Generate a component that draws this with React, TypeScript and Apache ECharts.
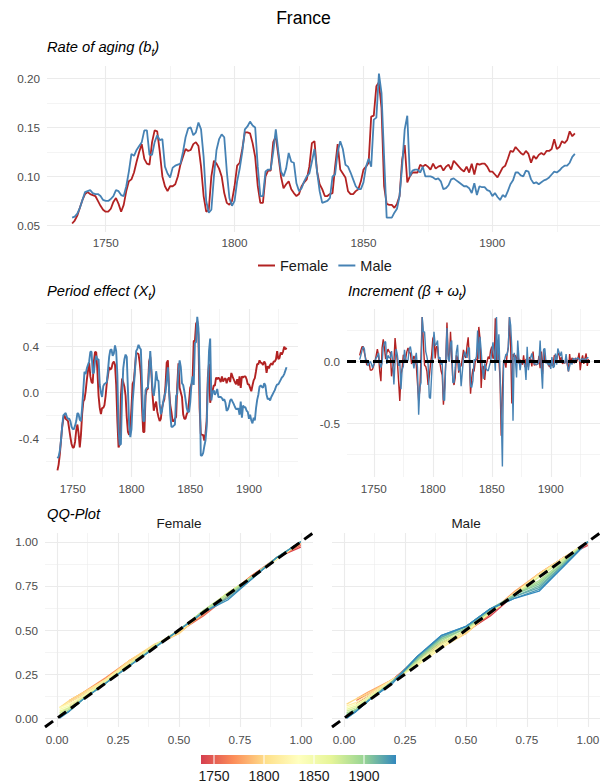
import React, { useEffect, useRef } from 'react';
import * as echarts from 'echarts';

const START_YEAR = 1737;
const INC_START_YEAR = 1738;

// Rate of aging b_t
const B_FEMALE = [
  0.052, 0.055, 0.060,
  0.068, 0.076, 0.082, 0.084, 0.082, 0.081, 0.080, 0.075, 0.070, 0.066,
  0.064, 0.064, 0.067, 0.074, 0.078, 0.072, 0.064, 0.071, 0.085, 0.095,
  0.097, 0.104, 0.115, 0.125, 0.133, 0.118, 0.113, 0.112, 0.135, 0.147,
  0.146, 0.125, 0.100, 0.090, 0.085, 0.090, 0.090, 0.092, 0.100, 0.112,
  0.120, 0.128, 0.126, 0.127, 0.133, 0.135, 0.131, 0.110, 0.080, 0.064,
  0.066, 0.100, 0.116, 0.113, 0.108, 0.100, 0.083, 0.073, 0.071, 0.075,
  0.090, 0.111, 0.114, 0.128, 0.145, 0.145, 0.144, 0.134, 0.120, 0.090,
  0.073, 0.073, 0.100, 0.106, 0.106, 0.135, 0.141, 0.121, 0.100, 0.088,
  0.092, 0.095, 0.087, 0.083, 0.080, 0.082, 0.090, 0.094, 0.097, 0.110,
  0.134, 0.136, 0.105, 0.092, 0.087, 0.080, 0.080, 0.082, 0.083, 0.110,
  0.133, 0.107, 0.103, 0.099, 0.085, 0.082, 0.082, 0.085, 0.087, 0.095,
  0.107, 0.110, 0.114, 0.161, 0.162, 0.192, 0.196, 0.170, 0.090, 0.072,
  0.071, 0.071, 0.068, 0.072, 0.080, 0.117, 0.132, 0.094, 0.100, 0.104,
  0.104, 0.104, 0.112, 0.110, 0.112, 0.110, 0.107, 0.113, 0.108, 0.110,
  0.111, 0.106, 0.110, 0.112, 0.107, 0.116, 0.113, 0.110, 0.107, 0.105,
  0.110, 0.104, 0.113, 0.102, 0.113, 0.112, 0.113, 0.113, 0.110, 0.105,
  0.105, 0.102, 0.099, 0.104, 0.109, 0.111, 0.118, 0.126, 0.125, 0.130,
  0.127, 0.124, 0.122, 0.126, 0.123, 0.114, 0.121, 0.118, 0.122, 0.124,
  0.122, 0.126, 0.126, 0.128, 0.138, 0.128, 0.130, 0.136, 0.134, 0.137,
  0.146, 0.141, 0.144,
];
const B_MALE = [
  0.058, 0.059, 0.062,
  0.068, 0.076, 0.084, 0.085, 0.086, 0.083, 0.082, 0.082, 0.080, 0.076,
  0.075, 0.075, 0.077, 0.080, 0.086, 0.085, 0.081, 0.080, 0.090, 0.105,
  0.123, 0.121, 0.127, 0.131, 0.135, 0.147, 0.147, 0.122, 0.122, 0.135,
  0.142, 0.137, 0.138, 0.110, 0.103, 0.099, 0.109, 0.111, 0.112, 0.113,
  0.125, 0.140, 0.149, 0.150, 0.142, 0.145, 0.155, 0.148, 0.120, 0.075,
  0.063, 0.066, 0.100, 0.127, 0.138, 0.143, 0.140, 0.105, 0.078, 0.070,
  0.075, 0.095, 0.108, 0.125, 0.148, 0.151, 0.156, 0.152, 0.150, 0.110,
  0.080, 0.080, 0.105, 0.107, 0.107, 0.125, 0.148, 0.125, 0.105, 0.100,
  0.108, 0.124, 0.115, 0.114, 0.093, 0.085, 0.088, 0.095, 0.100, 0.103,
  0.115, 0.128, 0.105, 0.085, 0.073, 0.074, 0.075, 0.078, 0.100, 0.102,
  0.125, 0.136, 0.128, 0.112, 0.110, 0.104, 0.097, 0.090, 0.087, 0.087,
  0.094, 0.110, 0.118, 0.110, 0.158, 0.160, 0.205, 0.185, 0.120, 0.058,
  0.058, 0.058, 0.063, 0.067, 0.080, 0.110, 0.148, 0.162, 0.100, 0.106,
  0.107, 0.107, 0.104, 0.110, 0.100, 0.100, 0.100, 0.099, 0.097, 0.098,
  0.095, 0.087, 0.088, 0.091, 0.097, 0.098, 0.096, 0.094, 0.092, 0.090,
  0.090, 0.088, 0.083, 0.093, 0.081, 0.090, 0.089, 0.089, 0.086, 0.085,
  0.080, 0.083, 0.079, 0.076, 0.081, 0.079, 0.085, 0.092, 0.096, 0.104,
  0.104, 0.101, 0.100, 0.106, 0.105, 0.097, 0.093, 0.094, 0.092, 0.094,
  0.096, 0.097, 0.099, 0.102, 0.105, 0.104, 0.106, 0.109, 0.111, 0.111,
  0.114, 0.120, 0.123,
];

// Period effect X_t
const X_FEMALE = [
  -0.68, -0.63, -0.54,
  -0.42, -0.30, -0.23, -0.20, -0.23, -0.24, -0.25, -0.32, -0.39, -0.45,
  -0.48, -0.48, -0.43, -0.33, -0.28, -0.36, -0.48, -0.37, -0.19, -0.08,
  -0.06, 0.01, 0.11, 0.19, 0.26, 0.14, 0.09, 0.08, 0.27, 0.355,
  0.35, 0.19, -0.03, -0.135, -0.19, -0.135, -0.135, -0.11, -0.03, 0.08,
  0.15, 0.22, 0.20, 0.21, 0.255, 0.27, 0.24, 0.065, -0.25, -0.48,
  -0.45, -0.03, 0.12, 0.09, 0.05, -0.03, -0.22, -0.345, -0.37, -0.32,
  -0.135, 0.075, 0.10, 0.22, 0.34, 0.34, 0.335, 0.26, 0.15, -0.135,
  -0.345, -0.345, -0.03, 0.03, 0.03, 0.27, 0.31, 0.16, -0.03, -0.16,
  -0.11, -0.08, -0.17, -0.215, -0.25, -0.23, -0.135, -0.09, -0.06, 0.065,
  0.26, 0.28, 0.02, -0.11, -0.17, -0.25, -0.25, -0.23, -0.215, 0.065,
  0.255, 0.04, 0.00, -0.04, -0.19, -0.23, -0.23, -0.19, -0.17, -0.08,
  0.04, 0.065, 0.10, 0.45, 0.45, 0.60, 0.62, 0.50, -0.135, -0.36,
  -0.37, -0.37, -0.42, -0.36, -0.25, 0.13, 0.25, -0.09, -0.03, 0.01,
  0.06, 0.06, 0.13, 0.115, 0.13, 0.115, 0.09, 0.14, 0.095, 0.115,
  0.125, 0.08, 0.115, 0.13, 0.09, 0.17, 0.14, 0.115, 0.09, 0.07,
  0.115, 0.06, 0.14, 0.04, 0.14, 0.13, 0.14, 0.14, 0.115, 0.07,
  0.07, 0.04, 0.01, 0.06, 0.105, 0.125, 0.185, 0.25, 0.245, 0.28,
  0.26, 0.255, 0.24, 0.27, 0.25, 0.17, 0.23, 0.21, 0.24, 0.255,
  0.24, 0.27, 0.27, 0.29, 0.36, 0.29, 0.30, 0.35, 0.33, 0.355,
  0.40, 0.375, 0.39,
];
const X_MALE = [
  -0.575, -0.56, -0.51,
  -0.42, -0.30, -0.20, -0.19, -0.18, -0.215, -0.23, -0.23, -0.25, -0.30,
  -0.32, -0.32, -0.29, -0.25, -0.18, -0.19, -0.24, -0.25, -0.135, 0.02,
  0.18, 0.16, 0.21, 0.24, 0.27, 0.355, 0.355, 0.17, 0.17, 0.27,
  0.32, 0.285, 0.29, 0.065, 0.00, -0.04, 0.055, 0.075, 0.08, 0.09,
  0.19, 0.31, 0.37, 0.375, 0.32, 0.34, 0.41, 0.36, 0.15, -0.32,
  -0.46, -0.45, -0.03, 0.21, 0.29, 0.33, 0.31, 0.02, -0.28, -0.39,
  -0.32, -0.08, 0.05, 0.19, 0.36, 0.38, 0.415, 0.39, 0.375, 0.065,
  -0.25, -0.25, 0.02, 0.04, 0.04, 0.19, 0.36, 0.19, 0.02, -0.03,
  0.05, 0.185, 0.11, 0.10, -0.10, -0.19, -0.16, -0.08, -0.03, 0.00,
  0.11, 0.22, 0.02, -0.19, -0.30, -0.30, -0.29, -0.28, -0.03, -0.01,
  0.19, 0.28, 0.22, 0.08, 0.065, 0.01, -0.06, -0.135, -0.17, -0.17,
  -0.09, 0.065, 0.14, 0.065, 0.43, 0.44, 0.66, 0.56, 0.15, -0.55,
  -0.55, -0.53, -0.47, -0.42, -0.30, 0.065, 0.36, 0.47, -0.07, 0.00,
  0.02, -0.02, 0.00, 0.03, -0.04, -0.04, -0.04, -0.05, -0.07, -0.06,
  -0.09, -0.16, -0.15, -0.12, -0.07, -0.06, -0.08, -0.10, -0.125, -0.145,
  -0.145, -0.14, -0.195, -0.08, -0.22, -0.115, -0.13, -0.13, -0.16, -0.17,
  -0.23, -0.195, -0.245, -0.27, -0.22, -0.245, -0.14, -0.065, -0.02, 0.05,
  0.06, 0.05, 0.04, 0.08, 0.06, -0.02, -0.06, -0.05, -0.07, -0.04,
  -0.02, 0.00, 0.02, 0.05, 0.07, 0.07, 0.09, 0.11, 0.13, 0.14,
  0.16, 0.19, 0.22,
];

// Increment (beta + omega_t), from 1738
const INC_FEMALE = [
  0.05, 0.09,
  0.12, 0.12, 0.07, 0.03, -0.03, -0.01, -0.01, -0.07, -0.07, -0.06,
  -0.03, 0.00, 0.05, 0.10, 0.05, -0.08, -0.16, 0.11, 0.18, 0.11,
  0.02, 0.07, 0.10, 0.08, 0.07, -0.12, -0.05, -0.01, 0.19, 0.085,
  -0.005, -0.16, -0.32, -0.105, -0.055, 0.055, 0.00, 0.025, 0.08, 0.11,
  0.07, 0.07, -0.02, 0.01, 0.045, 0.015, -0.03, -0.175, -0.315, -0.23,
  0.03, 0.36, 0.15, -0.03, -0.04, -0.08, -0.19, -0.125, -0.025, 0.05,
  0.185, 0.21, 0.025, 0.12, 0.12, 0.00, -0.005, -0.075, -0.11, -0.35,
  -0.21, 0.00, 0.315, 0.06, 0.00, 0.24, 0.04, -0.15, -0.19, -0.13,
  0.05, 0.03, -0.09, -0.045, -0.035, 0.02, 0.095, 0.045, 0.03, 0.125,
  0.195, 0.02, -0.26, -0.13, -0.06, -0.08, 0.00, 0.02, 0.015, 0.28,
  0.19, -0.215, -0.04, -0.04, -0.15, -0.04, 0.00, 0.04, 0.02, 0.09,
  0.12, 0.025, 0.035, 0.35, 0.00, 0.17, 0.02, -0.14, -0.60, -0.225,
  -0.01, 0.00, -0.05, 0.06, 0.11, 0.36, 0.12, -0.34, 0.06, 0.04,
  0.05, 0.00, 0.07, -0.015, 0.015, -0.015, -0.025, 0.05, -0.045, 0.02,
  0.01, -0.045, 0.035, 0.015, -0.04, 0.08, -0.03, -0.025, -0.025, -0.02,
  0.045, -0.055, 0.08, -0.10, 0.10, -0.01, 0.01, 0.00, -0.025, -0.045,
  0.00, -0.03, -0.03, 0.05, 0.045, 0.02, 0.06, 0.065, -0.005, 0.035,
  -0.02, -0.005, -0.015, 0.03, -0.02, -0.08, 0.06, -0.02, 0.03, 0.015,
  -0.015, 0.03, 0.00, 0.02, 0.07, -0.07, 0.01, 0.05, -0.02, 0.025,
  0.065, -0.035, 0.02,
];
const INC_MALE = [
  0.015, 0.05,
  0.09, 0.12, 0.10, 0.01, 0.01, -0.035, -0.015, 0.00, -0.02, -0.05,
  -0.02, 0.00, 0.03, 0.04, 0.07, -0.01, -0.05, -0.01, 0.115, 0.155,
  0.16, -0.02, 0.05, 0.03, 0.03, 0.085, 0.00, -0.185, 0.00, 0.10,
  0.05, -0.035, 0.005, -0.225, -0.065, -0.04, 0.095, 0.02, 0.005, 0.01,
  0.10, 0.12, 0.06, 0.005, -0.055, 0.02, 0.07, -0.05, -0.43, -0.21,
  -0.17, 0.36, 0.24, 0.24, 0.08, 0.04, -0.02, -0.29, -0.30, -0.11,
  0.07, 0.24, 0.13, 0.14, 0.17, 0.02, 0.035, -0.025, -0.015, -0.31,
  -0.315, 0.00, 0.27, 0.02, 0.00, 0.15, 0.17, -0.17, -0.17, -0.05,
  0.08, 0.135, -0.075, -0.01, -0.20, -0.09, 0.03, 0.08, 0.05, 0.03,
  0.11, 0.11, -0.20, -0.21, -0.155, 0.015, 0.01, 0.04, 0.25, 0.02,
  0.20, 0.09, -0.06, -0.14, -0.015, -0.055, -0.07, -0.075, -0.035, 0.00,
  0.08, 0.155, 0.075, -0.075, 0.36, 0.01, 0.22, -0.10, -0.41, -0.85,
  0.00, 0.02, 0.06, 0.05, 0.12, 0.36, 0.295, 0.11, -0.48, 0.07,
  0.02, -0.13, 0.17, 0.03, -0.07, 0.00, 0.00, -0.01, -0.02, -0.15,
  0.12, -0.07, 0.01, 0.035, 0.065, 0.01, -0.02, -0.02, -0.025, -0.02,
  0.00, 0.17, -0.055, -0.22, 0.10, 0.105, -0.015, 0.00, -0.03, -0.01,
  -0.06, 0.035, -0.05, -0.04, 0.065, -0.025, 0.105, 0.075, 0.045, 0.08,
  0.01, -0.01, -0.01, 0.06, -0.02, -0.08, -0.04, 0.01, -0.025, 0.025,
  0.02, 0.02, 0.02, 0.03, 0.02, 0.00, 0.02, 0.02, 0.02, 0.01,
  0.02, 0.03, 0.03,
];

// QQ-plot: theoretical probabilities and empirical quantiles per year
const QQ_PROBS = [0.01, 0.05, 0.1, 0.2, 0.3, 0.4, 0.5, 0.6, 0.7, 0.8, 0.9, 1.0];
const QQ_FEMALE_YEARS = [1740, 1755, 1770, 1785, 1800, 1815, 1830, 1845, 1860, 1875, 1890, 1905, 1920, 1930];
const QQ_FEMALE = [
  [null, 0.07, 0.12, 0.21, 0.31, 0.41, 0.50, 0.59, 0.69, 0.80, 0.91, 0.97],
  [null, 0.09, 0.13, 0.22, 0.32, 0.41, 0.49, 0.58, 0.69, 0.81, 0.91, 0.98],
  [null, 0.10, 0.14, 0.23, 0.33, 0.41, 0.49, 0.59, 0.70, 0.81, 0.90, 0.99],
  [null, 0.10, 0.14, 0.22, 0.33, 0.41, 0.48, 0.60, 0.71, 0.80, 0.90, 1.0],
  [0.06, 0.10, 0.14, 0.22, 0.33, 0.42, 0.48, 0.60, 0.71, 0.80, 0.90, 1.0],
  [0.06, 0.09, 0.13, 0.22, 0.32, 0.41, 0.49, 0.60, 0.71, 0.80, 0.90, 1.0],
  [0.06, 0.08, 0.12, 0.21, 0.31, 0.41, 0.50, 0.60, 0.70, 0.80, 0.90, 1.0],
  [0.05, 0.07, 0.12, 0.21, 0.31, 0.41, 0.50, 0.60, 0.71, 0.80, 0.91, 1.0],
  [0.04, 0.06, 0.11, 0.21, 0.31, 0.41, 0.50, 0.60, 0.71, 0.80, 0.91, 1.0],
  [0.03, 0.06, 0.11, 0.20, 0.31, 0.41, 0.50, 0.61, 0.71, 0.80, 0.91, 1.0],
  [0.02, 0.05, 0.10, 0.20, 0.30, 0.40, 0.50, 0.61, 0.70, 0.80, 0.91, 1.0],
  [0.01, 0.04, 0.10, 0.20, 0.30, 0.40, 0.50, 0.60, 0.69, 0.80, 0.91, 1.0],
  [0.005, 0.04, 0.10, 0.20, 0.30, 0.40, 0.50, 0.60, 0.68, 0.79, 0.91, 1.0],
  [0.0, 0.04, 0.10, 0.20, 0.30, 0.40, 0.50, 0.60, 0.67, 0.79, 0.91, 1.0],
];
const QQ_MALE_YEARS = [1740, 1760, 1780, 1800, 1820, 1840, 1860, 1875, 1890, 1897, 1904, 1911, 1918, 1925, 1932];
const QQ_MALE = [
  [null, 0.08, 0.13, 0.22, 0.34, 0.43, 0.49, 0.58, 0.70, 0.81, 0.91, 0.98],
  [null, 0.10, 0.14, 0.22, 0.33, 0.42, 0.49, 0.59, 0.71, 0.82, 0.91, 0.99],
  [null, 0.11, 0.15, 0.22, 0.31, 0.41, 0.48, 0.60, 0.72, 0.82, 0.91, 1.0],
  [0.08, 0.11, 0.14, 0.22, 0.30, 0.40, 0.48, 0.60, 0.71, 0.82, 0.91, 1.0],
  [0.07, 0.09, 0.13, 0.22, 0.30, 0.40, 0.49, 0.60, 0.71, 0.81, 0.91, 1.0],
  [0.06, 0.08, 0.12, 0.21, 0.30, 0.41, 0.50, 0.60, 0.70, 0.81, 0.90, 1.0],
  [0.05, 0.07, 0.12, 0.21, 0.31, 0.42, 0.50, 0.60, 0.70, 0.80, 0.90, 1.0],
  [0.04, 0.06, 0.11, 0.21, 0.32, 0.43, 0.50, 0.61, 0.70, 0.80, 0.90, 1.0],
  [0.03, 0.05, 0.10, 0.21, 0.33, 0.44, 0.51, 0.61, 0.70, 0.78, 0.89, 1.0],
  [0.02, 0.05, 0.10, 0.21, 0.33, 0.45, 0.51, 0.61, 0.70, 0.77, 0.88, 1.0],
  [0.02, 0.05, 0.10, 0.21, 0.34, 0.45, 0.51, 0.62, 0.70, 0.76, 0.88, 1.0],
  [0.01, 0.04, 0.10, 0.21, 0.34, 0.46, 0.52, 0.62, 0.69, 0.75, 0.87, 1.0],
  [0.01, 0.04, 0.10, 0.21, 0.35, 0.46, 0.52, 0.62, 0.69, 0.74, 0.87, 1.0],
  [0.0, 0.04, 0.10, 0.20, 0.35, 0.47, 0.52, 0.62, 0.68, 0.73, 0.86, 1.0],
  [0.0, 0.04, 0.10, 0.20, 0.35, 0.47, 0.52, 0.62, 0.68, 0.72, 0.86, 1.0],
];

const YEAR_TICKS = [1750, 1800, 1850, 1900];
const YEAR_MIN = 1737;
const YEAR_MAX = 1932;

const FONT = '"Liberation Sans", Arial, Helvetica, sans-serif';
const RED = '#B22222';
const BLUE = '#4682B4';
const GRID = '#EBEBEB';
const SPECTRAL = ['#D53E4F', '#FC8D59', '#FEE08B', '#FFFFBF', '#E6F598', '#99D594', '#3288BD'];

function hexToRgb(h: string) {
  const n = parseInt(h.slice(1), 16);
  return [(n >> 16) & 255, (n >> 8) & 255, n & 255];
}
function spectral(t: number) {
  const c = Math.max(0, Math.min(1, t));
  const p = c * (SPECTRAL.length - 1);
  const i = Math.min(SPECTRAL.length - 2, Math.floor(p));
  const f = p - i;
  const a = hexToRgb(SPECTRAL[i]);
  const b = hexToRgb(SPECTRAL[i + 1]);
  const m = a.map((v, k) => Math.round(v + (b[k] - v) * f));
  return `rgb(${m[0]},${m[1]},${m[2]})`;
}
const yearT = (y: number) => (y - YEAR_MIN) / (YEAR_MAX - YEAR_MIN);

function isStep(v: number, step: number) {
  const r = v / step;
  return Math.abs(r - Math.round(r)) < 1e-6;
}

function valueAxis(gridIndex: number, min: number, max: number, step: number, digits: number, margin: number, showLabels = true) {
  return {
    type: 'value',
    gridIndex,
    min,
    max,
    minInterval: step,
    maxInterval: step,
    splitNumber: Math.max(1, Math.round((max - min) / step)),
    axisLine: { show: false },
    axisTick: { show: false },
    axisLabel: {
      show: showLabels,
      color: '#4D4D4D',
      fontSize: 11.7,
      fontFamily: FONT,
      margin,
      showMinLabel: false,
      showMaxLabel: false,
      formatter: (v: number) => (isStep(v, step) ? (digits === 0 ? String(Math.round(v)) : v.toFixed(digits)) : ''),
    },
    splitLine: { show: true, showMinLine: false, showMaxLine: false, lineStyle: { color: GRID, width: 1.1 } },
    minorTick: { show: false, splitNumber: 2 },
    minorSplitLine: { show: true, lineStyle: { color: GRID, width: 0.55 } },
  };
}

const toPairs = (arr: number[], start: number) => arr.map((v, i) => [start + i, v]);

function lineSeries(name: string, data: any[], axis: number, color: string, width: number, z = 2) {
  return {
    type: 'line',
    name,
    data,
    xAxisIndex: axis,
    yAxisIndex: axis,
    showSymbol: false,
    symbol: 'none',
    color,
    lineStyle: { color, width },
    emphasis: { disabled: true },
    silent: true,
    z,
  };
}

function qqSeries(years: number[], rows: (number | null)[][], axis: number) {
  return rows.map((row, r) => {
    const data: number[][] = [];
    row.forEach((v, j) => {
      if (v !== null) data.push([QQ_PROBS[j], v]);
    });
    return lineSeries('qq' + axis + '-' + years[r], data, axis, spectral(yearT(years[r])), 1.3, 2);
  });
}

function subTitle(x: number, y: number, parts: [string, string][]) {
  return {
    type: 'text',
    x,
    y,
    silent: true,
    style: {
      text: parts.map(([k, t]) => `{${k}|${t}}`).join(''),
      verticalAlign: 'middle',
      align: 'left',
      rich: {
        a: { fontSize: 14.7, fontStyle: 'italic', fontFamily: FONT, fill: '#000', color: '#000', lineHeight: 20, verticalAlign: 'middle' },
        s: { fontSize: 10, fontStyle: 'italic', fontFamily: FONT, fill: '#000', color: '#000', lineHeight: 9, verticalAlign: 'bottom' },
      },
    },
  };
}

function buildOption() {
  const YEAR_AX_MIN = 1727.25;
  const YEAR_AX_MAX = 1941.75;
  const grids = [
    { left: 47, top: 66, width: 553, height: 166 },
    { left: 46, top: 309, width: 252, height: 168 },
    { left: 347, top: 309, width: 253, height: 168 },
    { left: 45, top: 533, width: 268, height: 194 },
    { left: 332, top: 533, width: 268, height: 194 },
  ];
  const xAxis = [
    valueAxis(0, YEAR_AX_MIN, YEAR_AX_MAX, 50, 0, 4.5),
    valueAxis(1, YEAR_AX_MIN, YEAR_AX_MAX, 50, 0, 5),
    valueAxis(2, YEAR_AX_MIN, YEAR_AX_MAX, 50, 0, 5),
    valueAxis(3, -0.05, 1.05, 0.25, 2, 6),
    valueAxis(4, -0.05, 1.05, 0.25, 2, 6),
  ];
  const yAxis = [
    valueAxis(0, 0.0433, 0.2127, 0.05, 2, 7),
    valueAxis(1, -0.738, 0.728, 0.4, 1, 7),
    valueAxis(2, -0.935, 0.425, 0.5, 1, 7),
    valueAxis(3, -0.05, 1.05, 0.25, 2, 7),
    valueAxis(4, -0.05, 1.05, 0.25, 2, 7, false),
  ];

  const dashed = (axis: number, data: number[][], dash: number[]) => ({
    type: 'line',
    data,
    xAxisIndex: axis,
    yAxisIndex: axis,
    showSymbol: false,
    symbol: 'none',
    color: '#000',
    lineStyle: { color: '#000', width: 3, type: dash },
    silent: true,
    z: 5,
  });

  const series: any[] = [
    lineSeries('Female', toPairs(B_FEMALE, START_YEAR), 0, RED, 1.8),
    lineSeries('Male', toPairs(B_MALE, START_YEAR), 0, BLUE, 1.8),
    lineSeries('Female', toPairs(X_FEMALE, START_YEAR), 1, RED, 1.9),
    lineSeries('Male', toPairs(X_MALE, START_YEAR), 1, BLUE, 1.9),
    lineSeries('Female', toPairs(INC_FEMALE, INC_START_YEAR), 2, RED, 1.4),
    lineSeries('Male', toPairs(INC_MALE, INC_START_YEAR), 2, BLUE, 1.4),
    dashed(2, [[YEAR_AX_MIN, 0], [YEAR_AX_MAX, 0]], [9, 4]),
    ...qqSeries(QQ_FEMALE_YEARS, QQ_FEMALE, 3),
    dashed(3, [[-0.05, -0.05], [1.05, 1.05]], [10, 6]),
    ...qqSeries(QQ_MALE_YEARS, QQ_MALE, 4),
    dashed(4, [[-0.05, -0.05], [1.05, 1.05]], [10, 6]),
  ];

  // colour bar (legend for QQ years)
  const CB_X = 201, CB_Y = 755, CB_W = 195, CB_H = 9;
  const cbX = (y: number) => CB_X + yearT(y) * CB_W;
  const colorStops = SPECTRAL.map((c, i) => ({ offset: i / (SPECTRAL.length - 1), color: c }));
  const cbElems: any[] = [
    {
      type: 'rect',
      silent: true,
      shape: { x: CB_X, y: CB_Y, width: CB_W, height: CB_H },
      style: { fill: { type: 'linear', x: 0, y: 0, x2: 1, y2: 0, colorStops } },
    },
  ];
  YEAR_TICKS.forEach((yr) => {
    cbElems.push({
      type: 'line',
      silent: true,
      shape: { x1: cbX(yr), y1: CB_Y, x2: cbX(yr), y2: CB_Y + CB_H },
      style: { stroke: '#fff', lineWidth: 1 },
    });
    cbElems.push({
      type: 'text',
      silent: true,
      x: cbX(yr),
      y: 776,
      style: { text: String(yr), fontSize: 14, fontFamily: FONT, fill: '#1A1A1A', align: 'center', verticalAlign: 'middle' },
    });
  });

  const graphic: any[] = [
    {
      type: 'text',
      silent: true,
      x: 303.5,
      y: 18,
      style: { text: 'France', fontSize: 17.6, fontFamily: FONT, fill: '#000', align: 'center', verticalAlign: 'middle' },
    },
    subTitle(47, 47, [['a', 'Rate of aging ('], ['a', 'b'], ['s', 't'], ['a', ')']]),
    subTitle(47, 291, [['a', 'Period effect ('], ['a', 'X'], ['s', 't'], ['a', ')']]),
    subTitle(348, 291, [['a', 'Increment (β + ω'], ['s', 't'], ['a', ')']]),
    subTitle(47, 514, [['a', 'QQ-Plot']]),
    {
      type: 'text',
      silent: true,
      x: 179,
      y: 523,
      style: { text: 'Female', fontSize: 13.5, fontFamily: FONT, fill: '#1A1A1A', align: 'center', verticalAlign: 'middle' },
    },
    {
      type: 'text',
      silent: true,
      x: 466,
      y: 523,
      style: { text: 'Male', fontSize: 13.5, fontFamily: FONT, fill: '#1A1A1A', align: 'center', verticalAlign: 'middle' },
    },
    ...cbElems,
  ];

  return {
    animation: false,
    backgroundColor: '#ffffff',
    textStyle: { fontFamily: FONT },
    grid: grids,
    xAxis,
    yAxis,
    legend: {
      data: ['Female', 'Male'],
      left: 258,
      top: 258,
      padding: 0,
      icon: 'rect',
      itemWidth: 17,
      itemHeight: 2,
      itemGap: 10,
      selectedMode: false,
      textStyle: { fontSize: 14.5, color: '#1A1A1A', fontFamily: FONT },
    },
    series,
    graphic,
  };
}

export default function App() {
  const ref = useRef<HTMLDivElement>(null);
  useEffect(() => {
    if (!ref.current) return;
    const chart = echarts.init(ref.current, null, { renderer: 'svg' });
    chart.setOption(buildOption() as any);
    return () => chart.dispose();
  }, []);
  return (
    <div
      ref={ref}
      style={{ position: 'absolute', left: 0, top: 0, width: 607, height: 784, background: '#fff' }}
    />
  );
}
